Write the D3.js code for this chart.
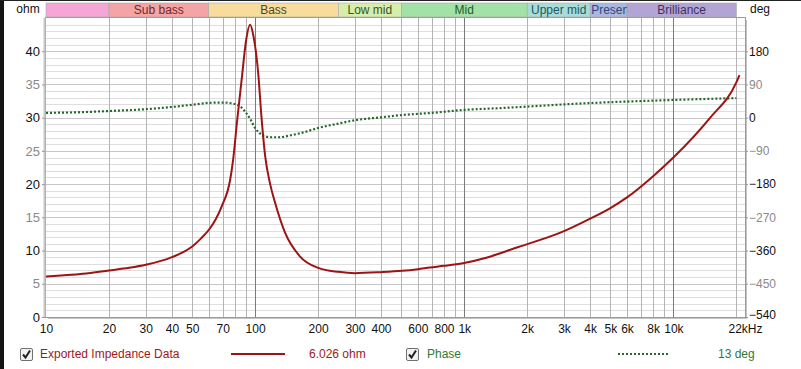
<!DOCTYPE html>
<html>
<head>
<meta charset="utf-8">
<script src="https://cdn.jsdelivr.net/npm/d3@7"></script>
<style>
  html, body { margin: 0; padding: 0; background: #fff; }
  svg { display: block; font-family: "Liberation Sans", Arial, sans-serif; }
</style>
</head>
<body>
<div id="root"></div>
<script>
// Impedance curve (Hz, ohm)
const impFreq = [10, 15, 20, 25, 30, 40, 50, 55, 61, 65, 69.3, 76, 78.5, 82, 86.6, 90.4, 94.6, 98, 103.7, 107, 111.7, 118, 124.6, 139, 164, 200, 250, 300, 400, 505, 600, 685, 800, 985, 1300, 1800, 2940, 4000, 5000, 6000, 8000, 10000, 15000, 20000, 20700];
const impOhm = [6.1, 6.5, 7.0, 7.4, 7.85, 9.0, 10.6, 11.8, 13.4, 14.8, 16.7, 20.7, 23.7, 29.5, 36.3, 41.5, 44.0, 42.4, 36.3, 30.5, 24.2, 20.0, 17.2, 12.7, 9.1, 7.4, 6.8, 6.6, 6.75, 6.95, 7.2, 7.45, 7.7, 8.1, 9.0, 10.5, 12.8, 14.8, 16.4, 18.0, 21.2, 24.0, 30.0, 35.3, 36.4];

// Phase curve (Hz, deg)
const phaseFreq = [10, 15, 20, 30, 40, 50, 60, 70, 80, 85, 90, 95, 100, 105, 110, 120, 130, 150, 170, 200, 250, 300, 400, 500, 700, 1000, 1500, 2000, 3000, 5000, 7000, 10000, 15000, 20000];
const phaseDeg = [13, 15, 18, 23, 29, 35, 40, 41, 37, 30, 15, -5, -28, -42, -50, -53, -53, -47, -40, -28, -16, -7, 1, 7, 13, 21, 26, 30, 36, 42, 45, 48, 51, 53];

// Frequency bands
const bandNames = ['', 'Sub bass', 'Bass', 'Low mid', 'Mid', 'Upper mid', 'Presence', 'Brilliance'];
const bandEdges = [10, 20, 60, 250, 500, 2000, 4000, 6000, 20000];
const bandFill = ['#f6a6d6', '#f4a4a4', '#f8dc9c', '#d6eeac', '#a2e2a6', '#a8dcd8', '#a8b8e0', '#b2a4d4'];
const bandText = ['#000', '#6e2a2a', '#54461c', '#3a5422', '#245a2e', '#22585c', '#34467e', '#3e305e'];

// Axis ticks
const freqTicks = [10, 20, 30, 40, 50, 70, 100, 200, 300, 400, 600, 800, 1000, 2000, 3000, 4000, 5000, 6000, 8000, 10000, 22000];
const freqLabels = ['10', '20', '30', '40', '50', '70', '100', '200', '300', '400', '600', '800', '1k', '2k', '3k', '4k', '5k', '6k', '8k', '10k', '22kHz'];
const ohmTicks = [0, 5, 10, 15, 20, 25, 30, 35, 40];
const degTicks = [-540, -450, -360, -270, -180, -90, 0, 90, 180];

const width = 801;
const height = 369;
const plotL = 46, plotR = 745, plotT = 18, plotB = 317;

const svg = d3.select('#root')
    .append('svg')
    .attr('width', width)
    .attr('height', height);

// dark frame edges from the screenshot
svg.append('rect').attr('x', 0).attr('y', 0).attr('width', 4).attr('height', height).attr('fill', '#151515');
svg.append('rect').attr('x', 0).attr('y', 0).attr('width', width).attr('height', 1).attr('fill', '#222');

const x = d3.scaleLog().domain([10, 22000]).range([plotL, plotR]);
const yOhm = d3.scaleLinear().domain([0, 45]).range([plotB, plotT]);
const yDeg = d3.scaleLinear().domain([-540, 270]).range([plotB, plotT]);

// plot shadow + background
svg.append('rect')
    .attr('x', plotL + 2).attr('y', plotT + 2)
    .attr('width', plotR - plotL).attr('height', plotB - plotT)
    .attr('fill', '#c4c4c4');
svg.append('rect')
    .attr('x', plotL).attr('y', plotT)
    .attr('width', plotR - plotL).attr('height', plotB - plotT)
    .attr('fill', '#fff');

// horizontal grid, every 1 ohm
svg.append('g')
    .selectAll('line')
    .data(d3.range(1, 45))
    .join('line')
    .attr('x1', plotL).attr('x2', plotR)
    .attr('y1', d => Math.round(yOhm(d)) + 0.5)
    .attr('y2', d => Math.round(yOhm(d)) + 0.5)
    .attr('stroke', d => d % 5 === 0 ? '#c6c6c6' : '#dedede');

// vertical grid
const gridFreq = [];
[10, 100, 1000, 10000].forEach(dec => {
    for (let k = 1; k <= 9; k++) {
        const f = dec * k;
        if (f > 10 && f <= 20000) gridFreq.push(f);
    }
});
svg.append('g')
    .selectAll('line')
    .data(gridFreq)
    .join('line')
    .attr('x1', d => Math.round(x(d)) + 0.5)
    .attr('x2', d => Math.round(x(d)) + 0.5)
    .attr('y1', plotT).attr('y2', plotB)
    .attr('stroke', d => [100, 1000, 10000].includes(d) ? '#7a7a7a' : '#b4b4b4');

// plot border
svg.append('rect')
    .attr('x', plotL - 0.5).attr('y', plotT - 0.5)
    .attr('width', plotR - plotL + 1).attr('height', plotB - plotT + 1)
    .attr('fill', 'none')
    .attr('stroke', '#9a9a9a');
svg.append('line')
    .attr('x1', plotL - 1.5).attr('x2', plotL - 1.5)
    .attr('y1', plotT).attr('y2', plotB)
    .attr('stroke', '#c8c8c8').attr('stroke-width', 2);

// bands
const bands = bandNames.map((name, i) => ({ name, f0: bandEdges[i], f1: bandEdges[i + 1], fill: bandFill[i], text: bandText[i] }));
const bandY = 3, bandH = 14;
const bandG = svg.append('g');
bandG.selectAll('clipPath')
    .data(bands)
    .join('clipPath')
    .attr('id', (d, i) => 'bclip' + i)
    .append('rect')
    .attr('x', d => x(d.f0)).attr('y', bandY)
    .attr('width', d => x(d.f1) - x(d.f0)).attr('height', bandH);
bandG.selectAll('rect.band')
    .data(bands)
    .join('rect')
    .attr('class', 'band')
    .attr('x', d => x(d.f0)).attr('y', bandY)
    .attr('width', d => x(d.f1) - x(d.f0)).attr('height', bandH)
    .attr('fill', d => d.fill)
    .attr('stroke', '#a8a8a8')
    .attr('stroke-width', 0.6);
bandG.selectAll('text')
    .data(bands)
    .join('text')
    .attr('clip-path', (d, i) => `url(#bclip${i})`)
    .attr('x', d => (x(d.f0) + x(d.f1)) / 2)
    .attr('y', bandY + bandH / 2 + 4)
    .attr('text-anchor', 'middle')
    .attr('font-size', 12)
    .attr('fill', d => d.text)
    .text(d => d.name)
    .each(function (d) {
        // too-wide labels start at the band's left edge and get cut off
        const w = this.getComputedTextLength();
        if (w > x(d.f1) - x(d.f0) - 2) {
            d3.select(this).attr('text-anchor', 'start').attr('x', x(d.f0) + 1);
        }
    });

// axis labels
svg.append('text').attr('x', 28).attr('y', 13).attr('text-anchor', 'middle').attr('font-size', 12).attr('fill', '#111').text('ohm');
svg.append('text').attr('x', 750).attr('y', 13).attr('font-size', 12).attr('fill', '#111').text('deg');

// left axis
const leftAxis = svg.append('g')
    .attr('transform', `translate(${plotL - 1},0)`)
    .call(d3.axisLeft(yOhm).tickValues(ohmTicks).tickSize(3).tickPadding(2));
leftAxis.select('.domain').remove();
leftAxis.selectAll('line').attr('stroke', '#999');
leftAxis.selectAll('text')
    .attr('font-size', 13)
    .attr('font-family', '"Liberation Sans", Arial, sans-serif')
    .attr('fill', d => d % 10 === 0 ? '#111' : '#8a8a8a');

// right axis
const rightAxis = svg.append('g')
    .attr('transform', `translate(${plotR + 1},0)`)
    .call(d3.axisRight(yDeg).tickValues(degTicks).tickSize(2).tickPadding(1));
rightAxis.select('.domain').remove();
rightAxis.selectAll('line').attr('stroke', '#999');
rightAxis.selectAll('text')
    .attr('font-size', 12)
    .attr('font-family', '"Liberation Sans", Arial, sans-serif')
    .attr('fill', d => d % 180 === 0 ? '#111' : '#8a8a8a');
rightAxis.selectAll('.tick').filter(d => d === -540).select('text').attr('dy', '0.1em');

// bottom axis
const bottomAxis = svg.append('g')
    .attr('transform', `translate(0,${plotB})`)
    .call(d3.axisBottom(x).tickValues(freqTicks).tickFormat((d, i) => freqLabels[i]).tickSize(0).tickPadding(7));
bottomAxis.select('.domain').remove();
bottomAxis.selectAll('text')
    .attr('font-size', 12)
    .attr('font-family', '"Liberation Sans", Arial, sans-serif')
    .attr('fill', '#111');

// curves
svg.append('clipPath').attr('id', 'plotclip')
    .append('rect').attr('x', plotL).attr('y', plotT).attr('width', plotR - plotL).attr('height', plotB - plotT);

const impLine = d3.line()
    .x((d, i) => x(impFreq[i]))
    .y(d => yOhm(d))
    .curve(d3.curveMonotoneX);
const phaseLine = d3.line()
    .x((d, i) => x(phaseFreq[i]))
    .y(d => yDeg(d))
    .curve(d3.curveMonotoneX);

svg.append('path')
    .attr('clip-path', 'url(#plotclip)')
    .attr('d', phaseLine(phaseDeg))
    .attr('fill', 'none')
    .attr('stroke', '#22692a')
    .attr('stroke-width', 2.2)
    .attr('stroke-dasharray', '2,2');

svg.append('path')
    .attr('clip-path', 'url(#plotclip)')
    .attr('d', impLine(impOhm))
    .attr('fill', 'none')
    .attr('stroke', '#9e1414')
    .attr('stroke-width', 2);

// legend
const legendY = 354;
const drawCheck = (cx) => {
    const g = svg.append('g').attr('transform', `translate(${cx},${legendY - 6})`);
    g.append('rect').attr('x', 0.5).attr('y', 0.5).attr('width', 12).attr('height', 12)
        .attr('rx', 1.5).attr('fill', '#f2f2f2').attr('stroke', '#707070');
    g.append('path').attr('d', 'M3,6.5 L5.5,9.5 L10,2.5')
        .attr('fill', 'none').attr('stroke', '#222').attr('stroke-width', 2);
};
drawCheck(20);
drawCheck(406);

svg.append('text').attr('x', 40).attr('y', legendY + 4).attr('font-size', 12).attr('fill', '#9e1a1a').text('Exported Impedance Data');
svg.append('line').attr('x1', 231).attr('x2', 285).attr('y1', legendY).attr('y2', legendY)
    .attr('stroke', '#9e1414').attr('stroke-width', 2);
svg.append('text').attr('x', 309).attr('y', legendY + 4).attr('font-size', 12).attr('fill', '#9e1a1a').text('6.026 ohm');

svg.append('text').attr('x', 427).attr('y', legendY + 4).attr('font-size', 12).attr('fill', '#2f7a34').text('Phase');
svg.append('line').attr('x1', 618).attr('x2', 670).attr('y1', legendY).attr('y2', legendY)
    .attr('stroke', '#22692a').attr('stroke-width', 2).attr('stroke-dasharray', '2,2');
svg.append('text').attr('x', 718).attr('y', legendY + 4).attr('font-size', 12).attr('fill', '#2f7a34').text('13 deg');
</script>
</body>
</html>
